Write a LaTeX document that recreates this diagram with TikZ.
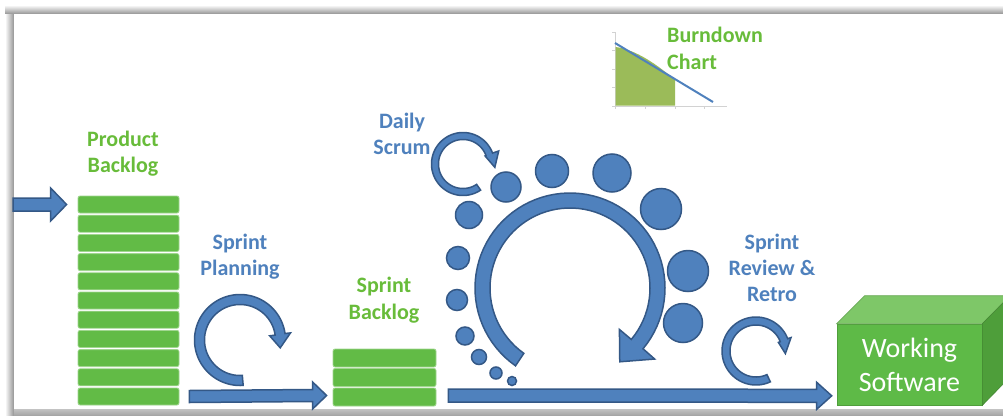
\documentclass[tikz,border=0pt]{standalone}
\usepackage{fontspec}
\setmainfont{Carlito}
\usetikzlibrary{calc}
\definecolor{bfill}{RGB}{79,129,189}
\definecolor{bline}{RGB}{52,88,134}
\definecolor{gfill}{RGB}{98,187,70}
\definecolor{gtext}{RGB}{104,188,58}
\definecolor{olivefill}{RGB}{155,187,89}
\definecolor{axisgray}{RGB}{210,210,210}
\definecolor{wfront}{RGB}{94,186,71}
\definecolor{wtop}{RGB}{126,199,104}
\definecolor{wside}{RGB}{78,158,58}
\tikzset{
  carrow/.style={fill=bfill, draw=bline, line width=1.5pt},
  barrow/.style={fill=bfill, draw=bline, line width=1.5pt},
  dot/.style={circle, fill=bfill, draw=bline, line width=1.5pt, inner sep=0pt},
  row/.style={rectangle, rounded corners=2pt, fill=gfill, draw=gfill!60!white, line width=0.8pt, inner sep=0pt},
  glbl/.style={font=\bfseries\fontsize{22}{26.5}\selectfont, text=gtext, align=center, inner sep=0pt},
  blbl/.style={font=\bfseries\fontsize{22}{26}\selectfont, text=bfill, align=center, inner sep=0pt},
  wsbox/.style={rectangle, fill=wfront, draw=wfront!85!black, line width=0.6pt, minimum width=145pt, minimum height=81pt, inner sep=0pt, text=white, align=center, font=\fontsize{28}{34}\selectfont}
}
% #1 centre coordinate, #2 mid radius, #3 band width, #4 tail angle, #5 head base angle,
% #6 tip angle, #7 inner wing offset, #8 outer wing offset, #9 tip radius
\newcommand{\circarrow}[9]{%
 \begin{scope}[shift={(#1)}]
 \draw[carrow]
  plot[domain=0:1,samples=70] ({(#2+#3/2)*cos(#4+(#5-#4)*\x)},{-(#2+#3/2)*sin(#4+(#5-#4)*\x)})
  -- ({(#2+#8)*cos(#5)},{-(#2+#8)*sin(#5)})
  -- ({#9*cos(#6)},{-#9*sin(#6)})
  -- ({(#2-#7)*cos(#5)},{-(#2-#7)*sin(#5)})
  -- plot[domain=0:1,samples=70] ({(#2-#3/2)*cos(#5+(#4-#5)*\x)},{-(#2-#3/2)*sin(#5+(#4-#5)*\x)})
  -- cycle;
 \end{scope}}
% #1 start, #2 tip, #3 shaft half height, #4 head half height, #5 head length
\newcommand{\blockarrow}[5]{%
 \draw[barrow] ($(#1)+(0,-#3)$) -- ($(#2)+(-#5,-#3)$) -- ($(#2)+(-#5,-#4)$) -- (#2)
   -- ($(#2)+(-#5,#4)$) -- ($(#2)+(-#5,#3)$) -- ($(#1)+(0,#3)$) -- cycle;}
\begin{document}
\begin{tikzpicture}[x=1pt,y=-1pt]
\useasboundingbox (0,0) rectangle (1003,415);
\begin{scope}
\clip (0,0) rectangle (1003,415);
\fill[white] (0,0) rectangle (1003,415);
% frame shadow
\shade[top color=white, bottom color=gray!85] (5,5) rectangle (1003,14);
\shade[left color=white, right color=gray!85] (5,14) rectangle (14,415);
\shade[top color=gray!45, bottom color=gray!70] (14,408.5) rectangle (1003,415);
\fill[white] (14,14) rectangle (1010,408.5);

% burndown chart
\draw[axisgray, line width=0.8pt] (615,32) -- (615,106) -- (727,106);
\foreach \yy in {32,50.5,69,87.5,106} \draw[axisgray, line width=0.8pt] (612,\yy) -- (615,\yy);
\foreach \xx in {615,645,675,704} \draw[axisgray, line width=0.8pt] (\xx,106) -- (\xx,109);
\fill[olivefill] (615.5,105.5) -- (615.5,47) .. controls (632,49) and (652,60) .. (675,80) -- (675,105.5) -- cycle;
\draw[bfill, line width=2pt] (615,43) -- (713,102);
\node[glbl, align=left, anchor=west] (bdc) at (667,48.5) {Burndown\\Chart};

% product backlog
\foreach \i in {0,...,10}
  \node[row, minimum width=101pt, minimum height=17pt] (pb\i) at (128.5,{204.5+19.2*\i}) {};
\node[glbl] (pbl) at (123,153.5) {Product\\Backlog};

% sprint backlog
\foreach \i in {0,1,2}
  \node[row, minimum width=103pt, minimum height=18pt] (sb\i) at (384.5,{358+19.5*\i}) {};
\node[glbl] (sbl) at (384,300) {Sprint\\Backlog};

% working software
\node[wsbox] (ws) at (909.5,364.5) {Working\\Software};
\draw[fill=wtop, draw=wtop!85!black, line width=0.6pt] (ws.north west) -- ++(28,-28) -- ++(145,0) -- (ws.north east) -- cycle;
\draw[fill=wside, draw=wside!85!black, line width=0.6pt] (ws.north east) -- ++(28,-28) -- ++(0,81) -- (ws.south east) -- cycle;

% straight arrows
\coordinate (inA) at (13,204.5);
\coordinate (inB) at ($(pb0.west)+(-11,0)$);
\blockarrow{inA}{inB}{6.5}{16.5}{16}
\coordinate (plA) at ($(pb10.east)+(10,0)$);
\coordinate (plB) at ($(sb2.west)+(-6,-1.5)$);
\blockarrow{plA}{plB}{6}{13.5}{14}
\coordinate (spA) at ($(sb2.east)+(12,-1.5)$);
\coordinate (spB) at ($(ws.south west)+(-5,-9.5)$);
\blockarrow{spA}{spB}{6.5}{13.5}{15}

% labels
\node[blbl] (spl) at (240,257) {Sprint\\Planning};
\node[blbl] (dsl) at (402,133.5) {Daily\\Scrum};
\node[blbl] (srl) at (772,267.5) {Sprint\\Review \&\\Retro};

% circular arrows
\coordinate (cPl) at (240,340);
\circarrow{cPl}{40.5}{10}{274}{8}{-11}{10.5}{10.5}{41}
\coordinate (cDs) at (463,164);
\circarrow{cDs}{28}{7}{304}{20}{-6}{4.5}{10}{32}
\coordinate (cRv) at (756,351);
\circarrow{cRv}{30}{8}{295}{21}{-5}{6}{7.5}{29.5}
\coordinate (cSp) at (570,288);
\circarrow{cSp}{87.5}{15}{235}{-40}{-56}{23}{23}{89}

% dots
\node[dot, minimum size=30pt] (d1) at (506,187) {};
\node[dot, minimum size=33pt] (d2) at (552,171) {};
\node[dot, minimum size=38pt] (d3) at (612,173) {};
\node[dot, minimum size=41pt] (d4) at (661,209) {};
\node[dot, minimum size=41pt] (d5) at (688,271) {};
\node[dot, minimum size=39pt] (d6) at (683,323) {};
\node[dot, minimum size=27pt] (d7) at (469,215) {};
\node[dot, minimum size=23pt] (d8) at (458,258) {};
\node[dot, minimum size=21pt] (d9) at (457,300) {};
\node[dot, minimum size=18pt] (d10) at (465,336) {};
\node[dot, minimum size=15pt] (d11) at (479,357) {};
\node[dot, minimum size=12pt] (d12) at (496,373) {};
\node[dot, minimum size=9pt] (d13) at (512,381) {};
\end{scope}
\end{tikzpicture}
\end{document}
